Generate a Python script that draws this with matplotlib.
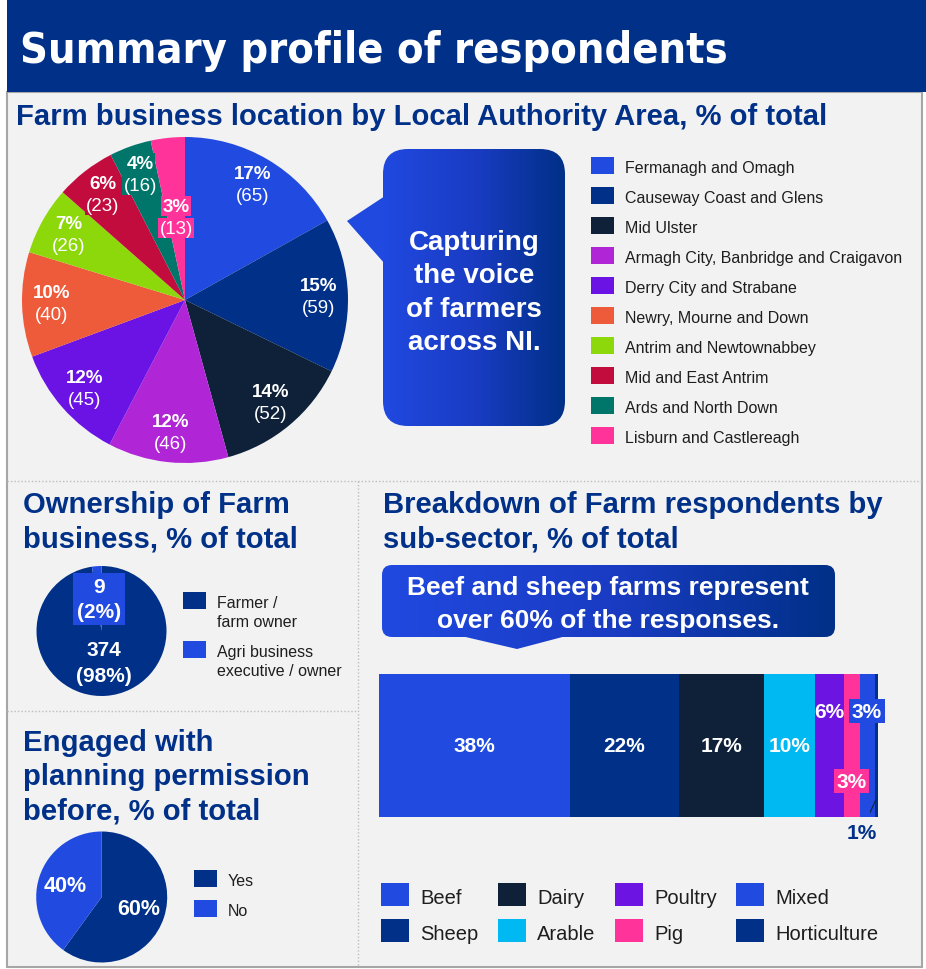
import numpy as np
import matplotlib
matplotlib.use("Agg")
import matplotlib.pyplot as plt
from matplotlib.patches import Rectangle, FancyBboxPatch, Polygon
from matplotlib.colors import LinearSegmentedColormap
from matplotlib import font_manager

# ---- data ----
areas = ["Fermanagh and Omagh", "Causeway Coast and Glens", "Mid Ulster",
         "Armagh City, Banbridge and Craigavon", "Derry City and Strabane",
         "Newry, Mourne and Down", "Antrim and Newtownabbey",
         "Mid and East Antrim", "Ards and North Down", "Lisburn and Castlereagh"]
area_counts = [65, 59, 52, 46, 45, 40, 26, 23, 16, 13]

owner_labels = ["Farmer /\nfarm owner", "Agri business\nexecutive / owner"]
owner_counts = [374, 9]

planning_labels = ["Yes", "No"]
planning_pct = [60, 40]

sectors = ["Beef", "Sheep", "Dairy", "Arable", "Poultry", "Pig", "Mixed", "Horticulture"]
sector_share = [38.2, 21.9, 17.0, 10.2, 5.8, 3.2, 3.0, 0.7]

# ---- styles ----
DARK = "#003087"
BRIGHT = "#214BE0"
NAVY = "#0E2139"
TXT = "#1E1E1E"
area_colors = ["#214BE0", "#003087", "#0E2139", "#B026D6", "#6B12E5",
               "#EE5B3B", "#8CD80B", "#C20C3D", "#00766B", "#FF3399"]
sector_colors = [BRIGHT, DARK, NAVY, "#00B9F2", "#6C14E2", "#FF3399", BRIGHT, DARK]

plt.rcParams["font.family"] = ["Liberation Sans", "DejaVu Sans"]

W, H = 926, 970
fig = plt.figure(figsize=(W / 100, H / 100), dpi=100)
fig.patch.set_facecolor("white")
bg = fig.add_axes([0, 0, 1, 1])
bg.axis("off")
# overlay for labels that sit on top of the pies
fg = fig.add_axes([0, 0, 1, 1])
fg.axis("off")
fg.set_zorder(5)


def px_axes(cx, cy, r):
    return fig.add_axes([(cx - r) / W, 1 - (cy + r) / H, 2 * r / W, 2 * r / H])


def condensed_bold():
    # look for a narrow / condensed bold face for the banner title
    best = None
    for f in font_manager.fontManager.ttflist:
        tag = (f.name + " " + f.fname).lower()
        if ("narrow" in tag or "condensed" in tag) and "italic" not in tag and "oblique" not in tag:
            w = f.weight if isinstance(f.weight, int) else (700 if "bold" in str(f.weight).lower() else 400)
            score = abs(w - 700)
            if best is None or score < best[0]:
                best = (score, f.fname)
    if best is not None:
        return font_manager.FontProperties(fname=best[1])
    return font_manager.FontProperties(family="Liberation Sans", weight="bold")


# frame and header
bg.add_patch(Rectangle((7, 93), 915, 875, fc="#F2F2F2", ec="#A6A6A6", lw=1.5, zorder=0))
bg.add_patch(Rectangle((7, 1), 919, 92, fc=DARK, ec="none", zorder=1))

title = bg.text(20, 72, "Summary profile of respondents", fontproperties=condensed_bold(),
                color="white", va="baseline", zorder=3)
title.set_fontsize(49)

# dotted dividers
dots = dict(color="#BDBDBD", lw=1, ls=(0, (1, 1.5)), zorder=1)
bg.plot([7, 922], [482, 482], **dots)
bg.plot([358, 358], [482, 967], **dots)
bg.plot([7, 358], [712, 712], **dots)

sec = dict(fontsize=21.1, fontweight="bold", color=DARK, va="baseline")
bg.text(16, 125, "Farm business location by Local Authority Area, % of total", **sec)
bg.text(23, 513, "Ownership of Farm", **sec)
bg.text(23, 548, "business, % of total", **sec)
bg.text(23, 751, "Engaged with", **sec)
bg.text(23, 785, "planning permission", **sec)
bg.text(23, 820, "before, % of total", **sec)
bg.text(383, 513, "Breakdown of Farm respondents by", **sec)
bg.text(383, 548, "sub-sector, % of total", **sec)

# ---- pie 1: local authority ----
cx, cy, r = 185, 301, 163
ax1 = px_axes(cx, cy, r)
ax1.pie(area_counts, colors=area_colors, startangle=90, counterclock=False,
        radius=1, wedgeprops=dict(linewidth=0))
ax1.set_xlim(-1, 1); ax1.set_ylim(-1, 1)
tot = sum(area_counts)
cum = np.cumsum([0] + area_counts[:-1])
for i, v in enumerate(area_counts):
    ang = np.deg2rad(90 - 360 * (cum[i] + v / 2) / tot)
    f = 0.51 if i == len(area_counts) - 1 else 0.82
    x = cx + f * r * np.cos(ang)
    y = cy - f * r * np.sin(ang)
    box = dict(boxstyle="square,pad=0.08", fc=area_colors[i], ec="none") if i >= 7 else None
    fg.text(x, y - 11, f"{round(100 * v / tot)}%", fontsize=13.5, fontweight="bold",
            color="white", ha="center", va="center", bbox=box)
    fg.text(x, y + 11, f"({v})", fontsize=13.5, color="white",
            ha="center", va="center", bbox=box)

for i, (name, c) in enumerate(zip(areas, area_colors)):
    yc = 166.5 + 30 * i
    bg.add_patch(Rectangle((591, yc - 8.5), 23, 17, fc=c, ec="none", zorder=2))
    bg.text(625, yc + 6.5, name, fontsize=11.5, color=TXT, va="baseline", zorder=2)

# callout 1
cmap = LinearSegmentedColormap.from_list("callout", ["#2049E0", "#1A3CC4", DARK])
grad = np.linspace(0, 1, 256).reshape(1, -1)
box1 = FancyBboxPatch((383, 150), 182, 277, boxstyle="round,pad=0,rounding_size=25",
                      fc="none", ec="none")
bg.add_patch(box1)
im1 = bg.imshow(grad, cmap=cmap, extent=(383, 565, 427, 150), aspect="auto", zorder=2)
im1.set_clip_path(box1)
bg.add_patch(Polygon([(385, 197), (347, 222), (385, 265)], fc="#2049E0", ec="none", zorder=2))
for k, line in enumerate(["Capturing", "the voice", "of farmers", "across NI."]):
    bg.text(474, 250 + 33.3 * k, line, fontsize=20, fontweight="bold", color="white",
            ha="center", va="baseline", zorder=3)

# ---- pie 2: ownership ----
cx2, cy2, r2 = 101.5, 632, 65
ax2 = px_axes(cx2, cy2, r2)
ax2.pie(owner_counts, colors=[DARK, BRIGHT], startangle=90, counterclock=False,
        radius=1, wedgeprops=dict(linewidth=0))
ax2.set_xlim(-1, 1); ax2.set_ylim(-1, 1)
otot = sum(owner_counts)
ocum = np.cumsum([0] + owner_counts[:-1])
for i, v in enumerate(owner_counts):
    ang = np.deg2rad(90 - 360 * (ocum[i] + v / 2) / otot)
    f = 0.48 if i == 0 else 0.5
    x = cx2 + f * r2 * np.cos(ang)
    y = cy2 - f * r2 * np.sin(ang)
    if i == 1:
        fg.add_patch(Rectangle((x - 26, y - 26), 52, 52, fc=BRIGHT, ec="none"))
    fg.text(x, y - 12.5, f"{v}", fontsize=15, fontweight="bold", color="white",
            ha="center", va="center")
    fg.text(x, y + 13, f"({round(100 * v / otot)}%)", fontsize=15, fontweight="bold",
            color="white", ha="center", va="center")
for i, (lab, c) in enumerate(zip(owner_labels, [DARK, BRIGHT])):
    y0 = 593 + 49 * i
    bg.add_patch(Rectangle((183, y0), 23, 17, fc=c, ec="none", zorder=2))
    for j, part in enumerate(lab.split("\n")):
        bg.text(217, y0 + 15 + 19 * j, part, fontsize=11.5, color=TXT, va="baseline")

# ---- pie 3: planning ----
cx3, cy3, r3 = 101.7, 898, 65.5
ax3 = px_axes(cx3, cy3, r3)
ax3.pie(planning_pct, colors=[DARK, BRIGHT], startangle=90, counterclock=False,
        radius=1, wedgeprops=dict(linewidth=0))
ax3.set_xlim(-1, 1); ax3.set_ylim(-1, 1)
pcum = np.cumsum([0] + planning_pct[:-1])
for i, v in enumerate(planning_pct):
    ang = np.deg2rad(90 - 360 * (pcum[i] + v / 2) / 100)
    x = cx3 + 0.59 * r3 * np.cos(ang)
    y = cy3 - 0.59 * r3 * np.sin(ang)
    fg.text(x, y, f"{v}%", fontsize=15.5, fontweight="bold", color="white",
            ha="center", va="center")
for i, (lab, c) in enumerate(zip(planning_labels, [DARK, BRIGHT])):
    y0 = 871 + 30 * i
    bg.add_patch(Rectangle((194, y0), 23, 17, fc=c, ec="none", zorder=2))
    bg.text(228, y0 + 15, lab, fontsize=11.5, color=TXT, va="baseline")

# ---- callout 2 ----
box2 = FancyBboxPatch((382, 566), 453, 72, boxstyle="round,pad=0,rounding_size=10",
                      fc="none", ec="none")
bg.add_patch(box2)
im2 = bg.imshow(grad, cmap=cmap, extent=(382, 835, 638, 566), aspect="auto", zorder=2)
im2.set_clip_path(box2)
tri = Polygon([(457, 636), (517, 650), (570, 636)], fc="none", ec="none")
bg.add_patch(tri)
im3 = bg.imshow(grad, cmap=cmap, extent=(382, 835, 652, 566), aspect="auto", zorder=2)
im3.set_clip_path(tri)
bg.text(608, 595, "Beef and sheep farms represent", fontsize=19, fontweight="bold",
        color="white", ha="center", va="baseline", zorder=3)
bg.text(608, 628, "over 60% of the responses.", fontsize=19, fontweight="bold",
        color="white", ha="center", va="baseline", zorder=3)

# ---- stacked bar ----
axb = fig.add_axes([379 / W, 1 - 818 / H, 499 / W, 143 / H])
lefts = np.cumsum([0] + sector_share[:-1])
axb.barh(0, sector_share, left=lefts, height=1, color=sector_colors, linewidth=0)
axb.set_xlim(0, sum(sector_share)); axb.set_ylim(-0.5, 0.5)
axb.axis("off")
mids = lefts + np.array(sector_share) / 2
lab = dict(fontsize=15, fontweight="bold", color="white", ha="center", va="center")
for i in range(4):
    axb.text(mids[i], 0, f"{round(sector_share[i])}%", **lab)
axb.text(mids[4], 0.24, f"{round(sector_share[4])}%", **lab)
axb.text(mids[6], 0.24, f"{round(sector_share[6])}%",
         bbox=dict(boxstyle="square,pad=0.12", fc=BRIGHT, ec="none"), **lab)
axb.text(mids[5], -0.25, f"{round(sector_share[5])}%",
         bbox=dict(boxstyle="square,pad=0.12", fc="#FF3399", ec="none"), **lab)
axb.annotate(f"{round(sector_share[7])}%", xy=(mids[7] - 0.1, -0.38),
             xytext=(mids[7] - 3.0, -0.605), textcoords="data",
             fontsize=15, fontweight="bold", color=DARK, ha="center", va="center",
             arrowprops=dict(arrowstyle="-", color=NAVY, lw=0.8, shrinkA=6, shrinkB=0),
             annotation_clip=False)

for i, (name, c) in enumerate(zip(sectors, sector_colors)):
    col, row = divmod(i, 2)
    x0 = [381, 498, 615, 736][col]
    y0 = 884 + 36 * row
    bg.add_patch(Rectangle((x0, y0), 28, 23, fc=c, ec="none", zorder=2))
    bg.text(x0 + 39, y0 + 20, name, fontsize=14.5, color=TXT, va="baseline")

for a in (bg, fg):
    a.set_xlim(0, W)
    a.set_ylim(H, 0)

# fit header title to its width in the reference
fig.canvas.draw()
bb = title.get_window_extent()
fs = 49 * min(1.0, 707 / bb.width)
title.set_fontsize(fs)
title.set_y(47.5 + 0.716 * fs * 100 / 72 / 2)

fig.savefig("out.png", dpi=100, facecolor="white")
